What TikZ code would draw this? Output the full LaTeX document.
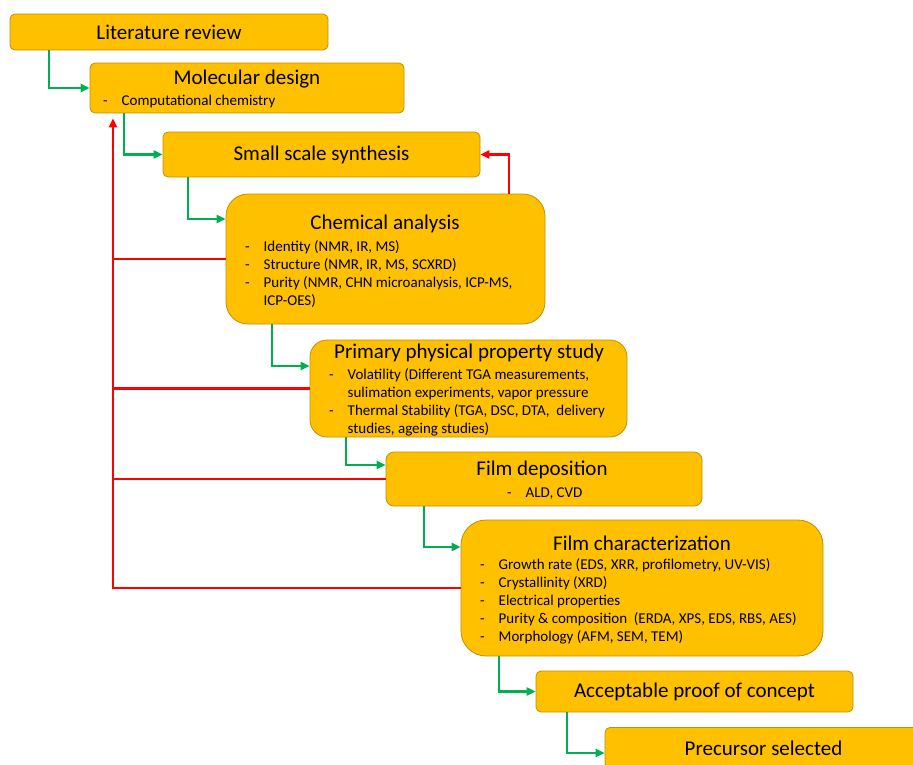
\documentclass[tikz,border=0pt]{standalone}
\usepackage{fontspec}
\setmainfont{Carlito}
\usepackage{tikz}
\usetikzlibrary{arrows.meta, positioning}
\definecolor{stagegold}{HTML}{FFC000}
\definecolor{stageedge}{HTML}{BF9000}
\definecolor{gogreen}{HTML}{00B050}
\definecolor{backred}{HTML}{FF0000}
\newcommand{\steplist}[1]{\begin{tabular}[t]{@{}p{18.5pt}@{}l@{}}#1\end{tabular}}

\begin{document}
\begin{tikzpicture}[
    x=1pt, y=-1pt,
    stage/.style={rectangle, rounded corners=5pt, draw=stageedge, fill=stagegold, line width=0.8pt, inner sep=0pt, font=\fontsize{21}{25}\selectfont},
    head/.style={inner sep=0pt, font=\fontsize{21}{25}\selectfont},
    items/.style={inner sep=0pt, anchor=base west, font=\fontsize{15}{18}\selectfont},
    fwd/.style={-{Triangle[length=9pt, width=8pt]}, gogreen, line width=2.2pt},
    back/.style={-{Triangle[length=9pt, width=8pt]}, backred, line width=2.2pt},
    rail/.style={backred, line width=2.2pt}
]
    \useasboundingbox (0,0) rectangle (913,764);
    \clip (0,0) rectangle (913,764);

    % Stages
    \node[stage, minimum width=318pt, minimum height=36pt] (lit) at (169,32) {Literature review};
    \node[stage, minimum width=314pt, minimum height=50pt] (mol) at (247,88) {};
    \node[stage, minimum width=317pt, minimum height=45pt] (syn) at (321.5,154.5) {Small scale synthesis};
    \node[stage, rounded corners=22pt, minimum width=319pt, minimum height=130pt] (chem) at (385.5,259) {};
    \node[stage, rounded corners=17pt, minimum width=317pt, minimum height=97pt] (prim) at (468.5,388.5) {};
    \node[stage, rounded corners=8pt, minimum width=316pt, minimum height=54pt] (dep) at (544,479) {};
    \node[stage, rounded corners=25pt, minimum width=362pt, minimum height=136pt] (char) at (642,588) {};
    \node[stage, minimum width=317pt, minimum height=41pt] (acc) at (694.5,691.5) {Acceptable proof of concept};
    \node[stage, minimum width=317pt, minimum height=41pt] (pre) at (763.5,748) {Precursor selected};

    % Titles and lists inside the stages
    \node[head] (moltitle) at (247,79) {Molecular design};
    \node[items] (mollist) at (103,105.5) {\steplist{- & Computational chemistry}};
    \node[head] (chemtitle) at (385,224) {Chemical analysis};
    \node[items] (chemlist) at (245,251.5) {\steplist{
        - & Identity (NMR, IR, MS)\\
        - & Structure (NMR, IR, MS, SCXRD)\\
        - & Purity (NMR, CHN microanalysis, ICP-MS,\\
          & ICP-OES)}};
    \node[head] (primtitle) at (469,353) {Primary physical property study};
    \node[items] (primlist) at (329,379.5) {\steplist{
        - & Volatility (Different TGA measurements,\\
          & sulimation experiments, vapor pressure\\
        - & Thermal Stability (TGA, DSC, DTA,\ \ delivery\\
          & studies, ageing studies)}};
    \node[head] (deptitle) at (542,470) {Film deposition};
    \node[items] (deplist) at (507,497.5) {\steplist{- & ALD, CVD}};
    \node[head] (chartitle) at (642,543) {Film characterization};
    \node[items] (charlist) at (480,569.5) {\steplist{
        - & Growth rate (EDS, XRR, profilometry, UV-VIS)\\
        - & Crystallinity (XRD)\\
        - & Electrical properties\\
        - & Purity \& composition\ \ (ERDA, XPS, EDS, RBS, AES)\\
        - & Morphology (AFM, SEM, TEM)}};

    % Forward path
    \draw[fwd] ([xshift=-120pt]lit.south) |- (mol.west);
    \draw[fwd] ([xshift=-123pt]mol.south) |- (syn.west);
    \draw[fwd] ([xshift=-133.5pt]syn.south) |- ([yshift=40pt]chem.west);
    \draw[fwd] ([xshift=-113.5pt]chem.south) |- ([yshift=22.5pt]prim.west);
    \draw[fwd] ([xshift=-122.5pt]prim.south) |- ([yshift=14pt]dep.west);
    \draw[fwd] ([xshift=-120pt]dep.south) |- ([yshift=41pt]char.west);
    \draw[fwd] ([xshift=-143pt]char.south) |- (acc.west);
    \draw[fwd] ([xshift=-127.5pt]acc.south) |- ([yshift=-5pt]pre.west);

    % Feedback loops
    \coordinate (back) at ([xshift=-134pt]mol.south);
    \draw[back] ([xshift=123.5pt]chem.north) |- (syn.east);
    \draw[back, shorten >=5pt] (char.west) -| (back);
    \draw[rail] (chem.west) -- (chem.west -| back);
    \draw[rail] (prim.west) -- (prim.west -| back);
    \draw[rail] (dep.west) -- (dep.west -| back);
\end{tikzpicture}
\end{document}
